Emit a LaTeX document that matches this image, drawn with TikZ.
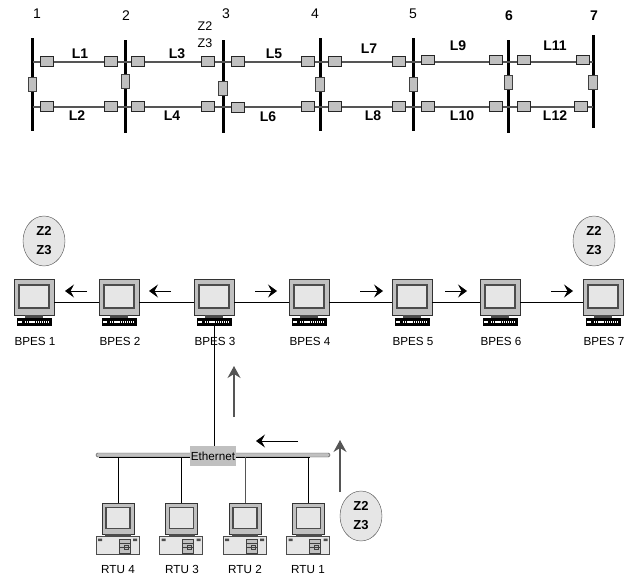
\documentclass[tikz,border=0pt]{standalone}
\usepackage{fontspec}
\setmainfont{Liberation Sans}
\usetikzlibrary{arrows.meta,positioning,shapes.geometric,calc}
\definecolor{pgray}{HTML}{C0C0C0}
\definecolor{plight}{HTML}{E6E6E6}
\definecolor{pline}{HTML}{555555}
\begin{document}
\begin{tikzpicture}[
    x=1pt, y=-1pt,
    bus/.style={rectangle, fill=black, inner sep=0pt, minimum width=3pt, minimum height=93pt},
    feeder/.style={draw=pline, line width=1.4pt},
    hbreak/.style={rectangle, draw=black!85, fill=pgray, line width=1pt, inner sep=0pt, minimum width=13pt, minimum height=9.5pt},
    vbreak/.style={rectangle, draw=black!75, fill=pgray, line width=1pt, inner sep=0pt, minimum width=8.5pt, minimum height=14pt},
    linelbl/.style={font=\fontsize{14}{14}\selectfont\bfseries, inner sep=0pt, text height=10pt, text depth=0pt},
    buslbl/.style={font=\fontsize{14}{14}\selectfont, inner sep=0pt, text height=10pt, text depth=0pt},
    zone/.style={ellipse, draw=black!70, fill=plight, minimum width=42pt, minimum height=50pt, inner sep=0pt, align=center, font=\fontsize{13}{19}\selectfont\bfseries},
    pclbl/.style={font=\fontsize{11.7}{11.7}\selectfont, inner sep=0pt, text height=8.4pt, text depth=0pt},
    flow/.style={-{Stealth[length=9pt, width=13pt, inset=3.5pt]}, line width=0.7pt},
    upflow/.style={-{Stealth[length=12pt, width=13pt, inset=4pt]}, draw=pline, line width=1.2pt},
    wire/.style={draw=black, line width=0.8pt},
    bpespc/.pic={
        \node[rectangle, draw=black!80, fill=pgray, inner sep=0pt, minimum width=40pt, minimum height=36pt] (-mon) at (0,0) {};
        \draw[fill=plight, draw=black!70, line width=1.7pt] (-15,-12) rectangle (15,11);
        \fill[black!70] (-9,18) rectangle (9,21);
        \node[rectangle, fill=black, inner sep=0pt, minimum width=35pt, minimum height=8pt] (-kbd) at (0,25) {};
        \draw[white, line width=1.2pt, dash pattern=on 1.3pt off 0.8pt] (-9,25) -- (16,25);
        \draw[white, line width=1.2pt] (-16,25) -- (-12,25);
    },
    rtupc/.pic={
        \node[rectangle, draw=black!80, fill=pgray, inner sep=0pt, minimum width=32pt, minimum height=31pt] (-mon) at (0,0) {};
        \draw[fill=plight, draw=black!70, line width=1.5pt] (-12,-11) rectangle (12,10);
        \fill[black!70] (-13,15.5) rectangle (13,18);
        \node[rectangle, draw=black!70, fill=plight, inner sep=0pt, minimum width=43pt, minimum height=18pt] (-box) at (-0.5,27) {};
        \fill[black!70] (-20,20) rectangle (-16,22.5) (15,20) rectangle (19,22.5);
        \draw[black!75, fill=pgray] (1,21) rectangle (12,35);
        \draw[black!75] (1,25) -- (12,25) (1,29) -- (12,29) (6,27) rectangle (10,31);
    }
]
    \useasboundingbox (0,0) rectangle (636,577);

    % Feeder levels
    \coordinate (top) at (0,62);
    \coordinate (bot) at (0,107);

    % Buses
    \node[bus] (b1) at (32.5,84.5) {};
    \node[bus] (b2) at (125.5,86.5) {};
    \node[bus] (b3) at (223,86.5) {};
    \node[bus] (b4) at (320,84.5) {};
    \node[bus] (b5) at (413.5,84.5) {};
    \node[bus] (b6) at (508.5,86.5) {};
    \node[bus] (b7) at (593,81.5) {};

    % Feeders
    \draw[feeder] (b1 |- top) -- (b7 |- top);
    \draw[feeder] (b1 |- bot) -- (b7 |- bot);

    % Breakers on the buses
    \node[vbreak] (v1) at (32.5,85) {};
    \node[vbreak] (v2) at (125.5,82) {};
    \node[vbreak] (v3) at (223,89) {};
    \node[vbreak] (v4) at (320,85) {};
    \node[vbreak] (v5) at (413.5,85) {};
    \node[vbreak] (v6) at (508.5,83) {};
    \node[vbreak] (v7) at (593,83) {};

    % Breakers on the lines
    \node[hbreak] (t1) at (47,61.5) {};
    \node[hbreak] (t2) at (111,61.5) {};
    \node[hbreak] (t3) at (138,61.5) {};
    \node[hbreak] (t4) at (208,61.5) {};
    \node[hbreak] (t5) at (238,61.5) {};
    \node[hbreak] (t6) at (308,61.5) {};
    \node[hbreak] (t7) at (335,61.5) {};
    \node[hbreak] (t8) at (399,61.5) {};
    \node[hbreak] (t9) at (428,60) {};
    \node[hbreak] (t10) at (496,60) {};
    \node[hbreak] (t11) at (523.5,60) {};
    \node[hbreak] (t12) at (583,60) {};
    \node[hbreak] (u1) at (47,106.5) {};
    \node[hbreak] (u2) at (111,106.5) {};
    \node[hbreak] (u3) at (138,106.5) {};
    \node[hbreak] (u4) at (208,106.5) {};
    \node[hbreak] (u5) at (238,107.5) {};
    \node[hbreak] (u6) at (308,106.5) {};
    \node[hbreak] (u7) at (335,106.5) {};
    \node[hbreak] (u8) at (399,106.5) {};
    \node[hbreak] (u9) at (428,106.5) {};
    \node[hbreak] (u10) at (496,106.5) {};
    \node[hbreak] (u11) at (523.5,106.5) {};
    \node[hbreak] (u12) at (581,106.5) {};

    % Labels
    \node[buslbl] (n1) at (37,14) {1};
    \node[buslbl] (n2) at (126,16) {2};
    \node[buslbl] (n3) at (226,14) {3};
    \node[buslbl] (n4) at (315,14) {4};
    \node[buslbl] (n5) at (413,14) {5};
    \node[buslbl, font=\fontsize{14}{14}\selectfont\bfseries] (n6) at (509,16) {6};
    \node[buslbl, font=\fontsize{14}{14}\selectfont\bfseries] (n7) at (594,16) {7};
    \node[pclbl, font=\fontsize{12.5}{12.5}\selectfont] (z2) at (205,26) {Z2};
    \node[pclbl, font=\fontsize{12.5}{12.5}\selectfont] (z3) at (205,43) {Z3};
    \node[linelbl] (l1) at (80,54) {L1};
    \node[linelbl] (l2) at (77,116) {L2};
    \node[linelbl] (l3) at (177,54) {L3};
    \node[linelbl] (l4) at (172,116) {L4};
    \node[linelbl] (l5) at (274,54) {L5};
    \node[linelbl] (l6) at (268,117) {L6};
    \node[linelbl] (l7) at (369,49) {L7};
    \node[linelbl] (l8) at (373,116) {L8};
    \node[linelbl] (l9) at (458,46) {L9};
    \node[linelbl] (l10) at (462,116) {L10};
    \node[linelbl] (l11) at (555,46) {L11};
    \node[linelbl] (l12) at (555,116) {L12};

    % BPES stations
    \pic (bpes1) at (34,297) {bpespc};
    \pic (bpes2) at (119,297) {bpespc};
    \pic (bpes3) at (214,297) {bpespc};
    \pic (bpes4) at (309,297) {bpespc};
    \pic (bpes5) at (412,297) {bpespc};
    \pic (bpes6) at (500,297) {bpespc};
    \pic (bpes7) at (603,297) {bpespc};
    \node[pclbl] (bl1) at (35,341) {BPES 1};
    \node[pclbl] (bl2) at (120,341) {BPES 2};
    \node[pclbl] (bl3) at (215,341) {BPES 3};
    \node[pclbl] (bl4) at (310,341) {BPES 4};
    \node[pclbl] (bl5) at (413,341) {BPES 5};
    \node[pclbl] (bl6) at (501,341) {BPES 6};
    \node[pclbl] (bl7) at (604,341) {BPES 7};

    % Station links
    \coordinate (link) at (0,302);
    \draw[wire] (bpes1-mon.east |- link) -- (bpes2-mon.west |- link);
    \draw[wire] (bpes2-mon.east |- link) -- (bpes3-mon.west |- link);
    \draw[wire] (bpes3-mon.east |- link) -- (bpes4-mon.west |- link);
    \draw[wire] (bpes4-mon.east |- link) -- (bpes5-mon.west |- link);
    \draw[wire] (bpes5-mon.east |- link) -- (bpes6-mon.west |- link);
    \draw[wire] (bpes6-mon.east |- link) -- (bpes7-mon.west |- link);

    % Zone bubbles
    \node[zone] (zn1) at (44,241) {Z2\\Z3};
    \node[zone] (zn2) at (594,241) {Z2\\Z3};
    \node[zone] (zn3) at (361,516) {Z2\\Z3};

    % Ethernet
    \node[rectangle, draw=black!70, fill=pgray, rounded corners=1.5pt, inner sep=0pt, minimum width=234pt, minimum height=4pt] (bar) at (213,455) {};
    \draw[wire] (bar.south west) ++(3,0) -- ($(bar.south east)+(-20,0)$);

    % RTU stations
    \pic (rtu4) at (118,518.5) {rtupc};
    \pic (rtu3) at (181.5,518.5) {rtupc};
    \pic (rtu2) at (245,518.5) {rtupc};
    \pic (rtu1) at (308.5,518.5) {rtupc};
    \node[pclbl] (rl4) at (118,569) {RTU 4};
    \node[pclbl] (rl3) at (182,569) {RTU 3};
    \node[pclbl] (rl2) at (245,569) {RTU 2};
    \node[pclbl] (rl1) at (308,569) {RTU 1};
    \draw[wire] (rtu4-mon.north) -- (rtu4-mon.north |- bar.south);
    \draw[wire] (rtu3-mon.north) -- (rtu3-mon.north |- bar.south);
    \draw[wire, draw=pline] (rtu2-mon.north) -- (rtu2-mon.north |- bar.south);
    \draw[wire] (rtu1-mon.north) -- (rtu1-mon.north |- bar.south);

    \coordinate (eth) at (214,447);
    \draw[wire] (bpes3-kbd.south) -- (eth);
    \node[rectangle, fill=pgray, inner sep=0pt, minimum width=46pt, minimum height=20pt, font=\fontsize{11.7}{11.7}\selectfont] (ether) at (213,456) {Ethernet};

    % Data flow arrows
    \coordinate (f1a) at (87,291);  \coordinate (f1b) at (65,291);
    \coordinate (f2a) at (171,291); \coordinate (f2b) at (149,291);
    \coordinate (f3a) at (255,291); \coordinate (f3b) at (277,291);
    \coordinate (f4a) at (360,291); \coordinate (f4b) at (383,291);
    \coordinate (f5a) at (445,291); \coordinate (f5b) at (467,291);
    \coordinate (f6a) at (551,291); \coordinate (f6b) at (573,291);
    \coordinate (f7a) at (298,441); \coordinate (f7b) at (256,441);
    \coordinate (f8a) at (234,417); \coordinate (f8b) at (234,366);
    \coordinate (f9a) at (340,492); \coordinate (f9b) at (340,440);
    \draw[flow] (f1a) -- (f1b);
    \draw[flow] (f2a) -- (f2b);
    \draw[flow] (f3a) -- (f3b);
    \draw[flow] (f4a) -- (f4b);
    \draw[flow] (f5a) -- (f5b);
    \draw[flow] (f6a) -- (f6b);
    \draw[flow] (f7a) -- (f7b);
    \draw[upflow] (f8a) -- (f8b);
    \draw[upflow] (f9a) -- (f9b);
\end{tikzpicture}
\end{document}
